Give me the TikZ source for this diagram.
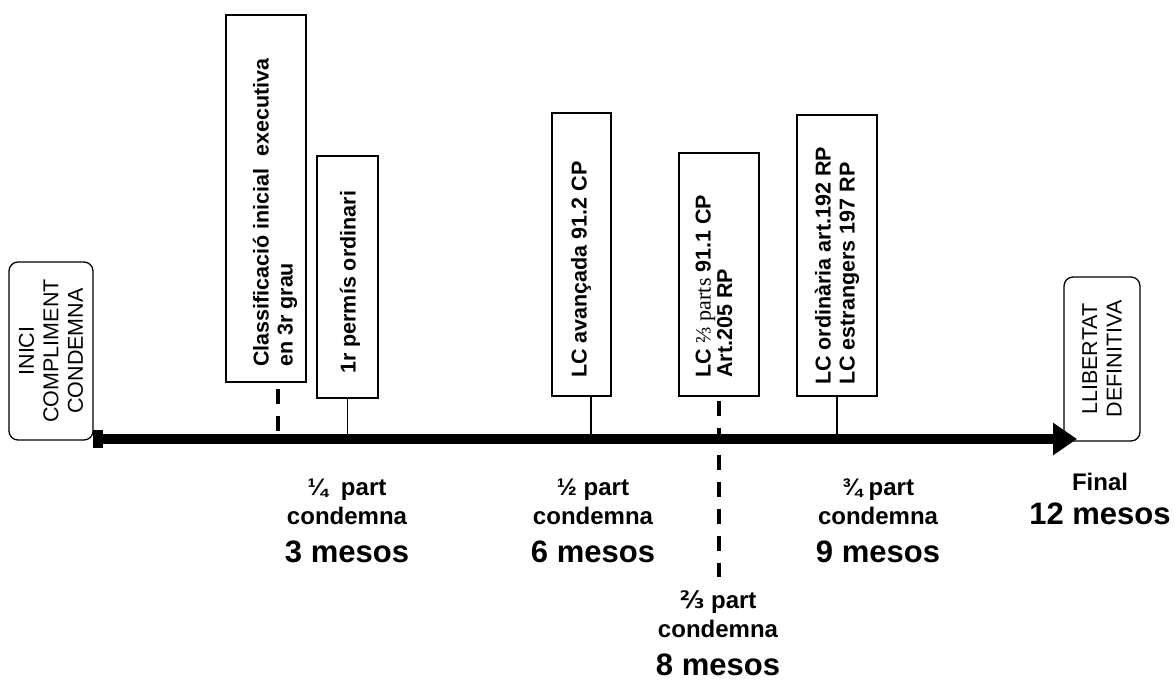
\documentclass[tikz,border=0pt]{standalone}
\usepackage{fontspec}
\setmainfont{Liberation Sans}
\newfontfamily\timesfont{Liberation Serif}
\newfontfamily\fracfont{DejaVu Sans}
\usetikzlibrary{arrows.meta}

\begin{document}
\begin{tikzpicture}[x=1pt,y=-1pt,
    caixa/.style={draw,line width=1.3pt,inner sep=0pt},
    extrem/.style={draw,line width=1.3pt,rounded corners=9pt,rotate=90,align=center,inner sep=0pt,font=\fontsize{21.5}{24.5}\selectfont},
    rotul/.style={rotate=90,anchor=west,align=left,inner sep=0pt,font=\bfseries\fontsize{21.5}{24}\selectfont},
    fita/.style={align=center,anchor=north,inner sep=0pt,font=\bfseries\fontsize{24}{29}\selectfont},
    enllac/.style={line width=1.2pt},
    discont/.style={line width=4pt,dash pattern=on 15pt off 12pt}]

    \useasboundingbox (0,0) rectangle (1174,680);

    % extrems de la linia
    \node[extrem,minimum width=178pt,minimum height=84pt] (inici) at (51,351) {INICI\\COMPLIMENT\\CONDEMNA};
    \node[extrem,minimum width=164pt,minimum height=76pt] (final) at (1102,359) {LLIBERTAT\\DEFINITIVA};

    % caixes
    \node[caixa,minimum width=80pt,minimum height=367pt] (cls) at (266,198.5) {};
    \node[caixa,minimum width=61pt,minimum height=242pt] (perm) at (347.5,277) {};
    \node[caixa,minimum width=59pt,minimum height=283pt] (avan) at (581.5,254.5) {};
    \node[caixa,minimum width=80pt,minimum height=243pt] (dos) at (719,274.5) {};
    \node[caixa,minimum width=80pt,minimum height=281pt] (ord) at (837,255.5) {};

    \node[rotul] (tcls) at (275,367) {Classificació inicial\ \ executiva\\en 3r grau};
    \node[rotul] (tperm) at (350,374) {1r permís ordinari};
    \node[rotul] (tavan) at (581,378) {LC avançada 91.2 CP};
    \node[rotul,font={\bfseries\fontsize{21.5}{21.5}\selectfont\lineskiplimit-20pt\relax}] (tdos) at (714,378) {LC {\timesfont\mdseries\fontsize{22}{21.5}\selectfont ⅔ parts} 91.1 CP\\Art.205 RP};
    \node[rotul] (tord) at (837,385) {LC ordinària art.192 RP\\LC estrangers 197 RP};

    % linia del temps
    \coordinate (t0) at (93,439);
    \coordinate (t12) at (1077,439);
    \coordinate (fdos) at (719,577);

    \draw[discont] ([xshift=11.5pt,yshift=-6pt]cls.south) -- ([xshift=11.5pt]cls.south |- t0);
    \draw[discont] ([yshift=-4pt]dos.south) -- (fdos);
    \draw[enllac] (perm.south) -- (perm.south |- t0);
    \draw[enllac] ([xshift=9.5pt]avan.south) -- ([xshift=9.5pt]avan.south |- t0);
    \draw[enllac] (ord.south) -- (ord.south |- t0);

    \draw[line width=10pt,{Square[length=10pt,width=18pt]}-{Triangle[length=24pt,width=31pt]}] (t0) -- (t12);

    % fites
    \node[fita] (q1) at (347,479) {¼\ \ part\\condemna\\[9pt]{\fontsize{31}{38}\selectfont 3 mesos}};
    \node[fita] (q2) at (593,479) {½ part\\condemna\\[9pt]{\fontsize{31}{38}\selectfont 6 mesos}};
    \node[fita] (q23) at (718,590) {{\fracfont ⅔} part\\condemna\\[9pt]{\fontsize{31}{38}\selectfont 8 mesos}};
    \node[fita] (q3) at (878,479) {¾ part\\condemna\\[9pt]{\fontsize{31}{38}\selectfont 9 mesos}};
    \node[fita] (fin) at (1100,473) {Final\\[4.5pt]{\fontsize{31}{38}\selectfont 12 mesos}};
\end{tikzpicture}
\end{document}
